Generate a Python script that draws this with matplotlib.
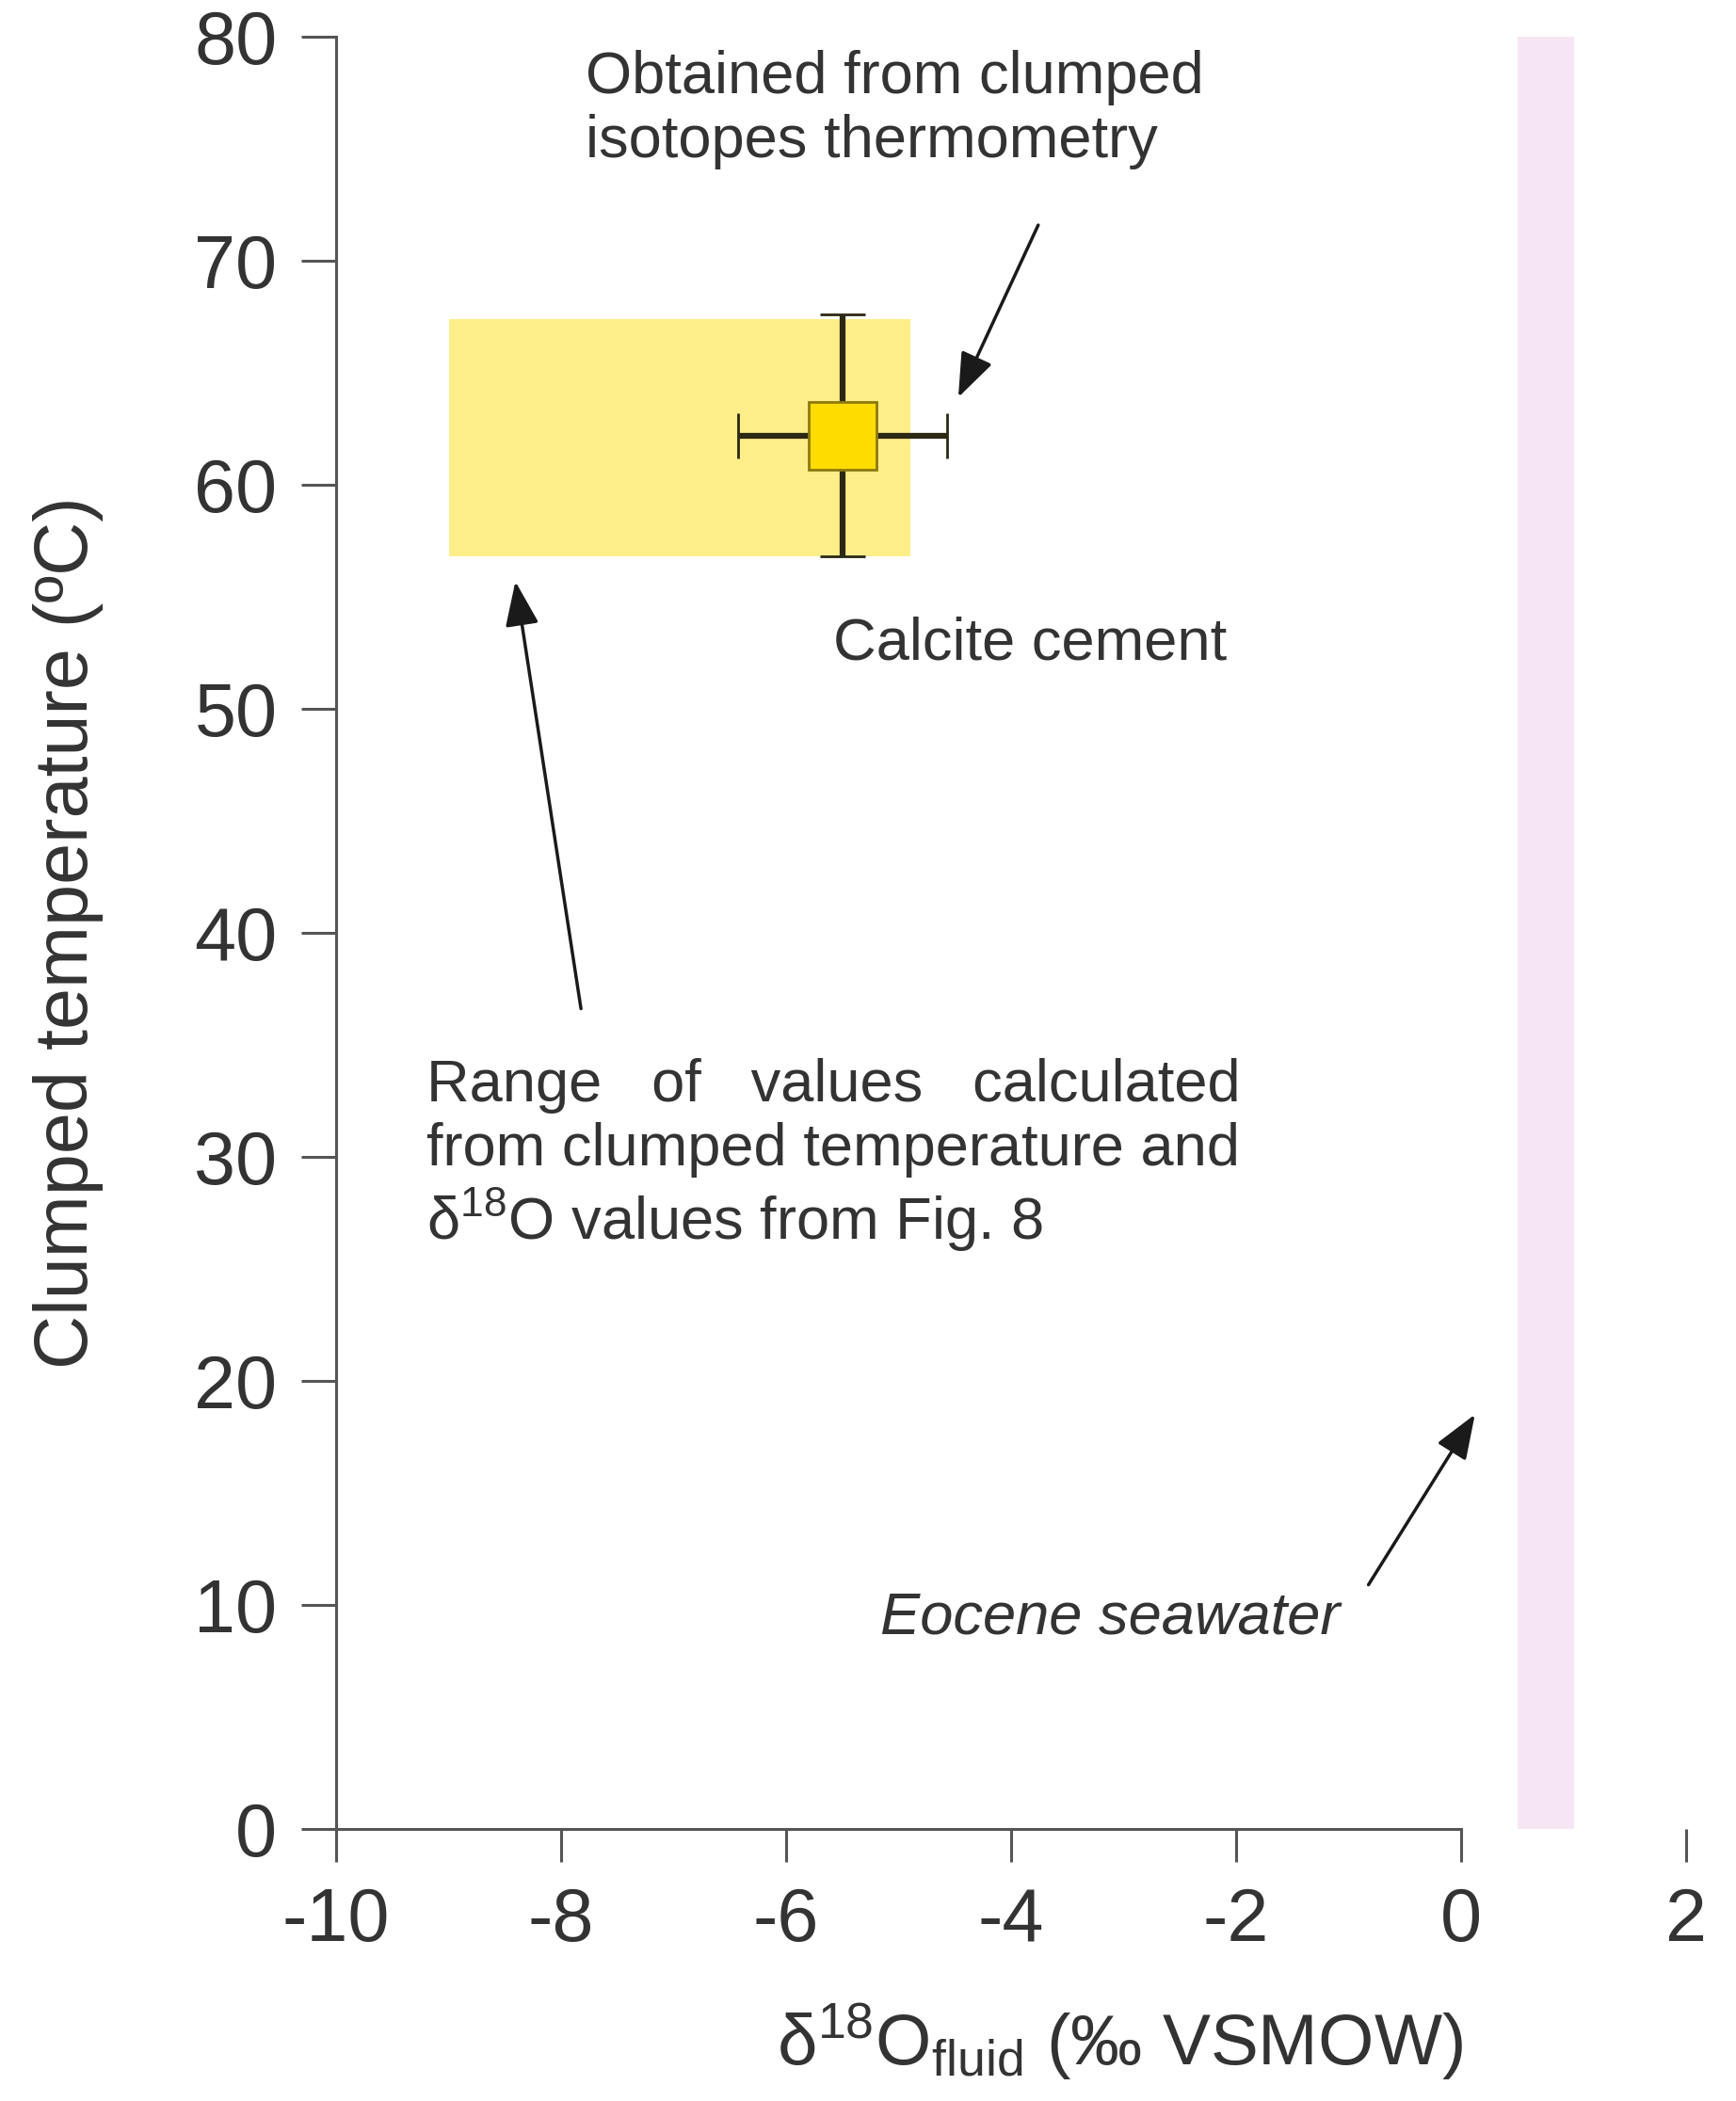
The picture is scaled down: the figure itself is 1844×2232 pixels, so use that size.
import numpy as np
import matplotlib
matplotlib.use("Agg")
import matplotlib.pyplot as plt

plt.rcParams['font.family'] = ['Liberation Sans', 'DejaVu Sans']
plt.rcParams['mathtext.fontset'] = 'custom'
plt.rcParams['mathtext.rm'] = 'Liberation Sans'
plt.rcParams['mathtext.it'] = 'Liberation Sans:italic'
plt.rcParams['axes.unicode_minus'] = False

# data
range_x = [-9.0, -4.9]        # range of d18O fluid values (yellow box)
range_y = [56.8, 67.4]        # clumped temperature range
cement_x = [-5.5]
cement_y = [62.2]
cement_xerr = [0.93]
cement_yerr = [5.4]
seawater_x = [0.5, 1.0]       # Eocene seawater band
seawater_y = [0, 80]
xticks = [-10, -8, -6, -4, -2, 0, 2]
yticks = [0, 10, 20, 30, 40, 50, 60, 70, 80]

txt = '#333333'
fig = plt.figure(figsize=(18.44, 22.32), dpi=100)
ax = fig.add_axes([0.1936, 0.1295, 0.7972, 0.8530])

ax.fill_between(seawater_x, seawater_y[0], seawater_y[1], color='#f6e6f3', lw=0, zorder=1)
ax.fill_between(range_x, range_y[0], range_y[1], color='#fdee8a', lw=0, zorder=1)
ax.errorbar(cement_x, cement_y, xerr=cement_xerr, yerr=cement_yerr, fmt='s',
            ms=52, mfc='#fedc00', mec='#8c7a10', mew=2, ecolor='#2b2814',
            elinewidth=4.5, capsize=17, capthick=4.5, zorder=3)

ax.set_xlim(-10, 2.3)
ax.set_ylim(0, 80)
ax.set_xticks(xticks)
ax.set_yticks(yticks)
for s in ['top', 'right']:
    ax.spines[s].set_visible(False)
ax.spines['bottom'].set_bounds(-10, 0)
ax.spines['left'].set_bounds(0, 80)
for s in ['bottom', 'left']:
    ax.spines[s].set_color('#555555')
    ax.spines[s].set_linewidth(2.2)
ax.tick_params(axis='x', length=25, width=2.2, color='#555555', pad=19,
               labelsize=57, labelcolor=txt)
ax.tick_params(axis='y', length=27, width=2.2, color='#555555', pad=18,
               labelsize=57, labelcolor=txt)

ax.set_ylabel('Clumped temperature (ºC)', fontsize=57, color=txt)
ax.yaxis.set_label_coords(-0.168, 0.5)
ax.set_xlabel(r'δ$^{18}$O$_{\rm fluid}$ (‰ VSMOW)', fontsize=55, color=txt)
ax.xaxis.set_label_coords(0.566, -0.096)

arrow = dict(arrowstyle='-|>,head_length=2.9,head_width=1.1', color='#1a1a1a', lw=2.5)
ax.text(-7.78, 79.4, 'Obtained from clumped\nisotopes thermometry', fontsize=45.5,
        color=txt, va='top', ha='left', linespacing=1.18)
ax.annotate('', xy=(-4.48, 63.8), xytext=(-3.75, 71.7), arrowprops=arrow)

ax.text(-5.58, 52.9, 'Calcite cement', fontsize=45.5, color=txt, va='center', ha='left')

ax.text(-9.2, 34.4, 'Range   of   values   calculated\nfrom clumped temperature and\n'
        r'δ$^{18}$O values from Fig. 8', fontsize=45.5, color=txt, va='top',
        ha='left', linespacing=1.18)
ax.annotate('', xy=(-8.41, 55.8), xytext=(-7.82, 36.5), arrowprops=arrow)

ax.text(-5.16, 9.4, 'Eocene seawater', fontsize=45.5, color=txt, style='italic',
        va='center', ha='left')
ax.annotate('', xy=(0.134, 18.6), xytext=(-0.837, 10.8), arrowprops=arrow)

fig.savefig('out.png', dpi=100)
